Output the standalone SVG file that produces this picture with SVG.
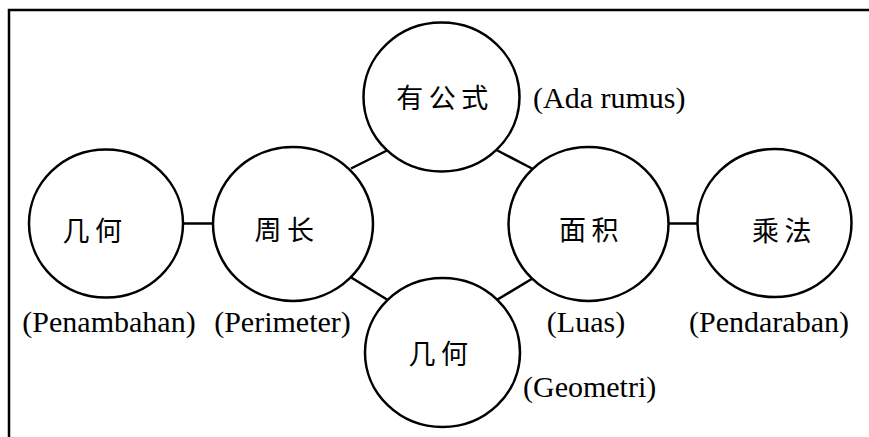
<svg xmlns="http://www.w3.org/2000/svg" width="869" height="437" viewBox="0 0 869 437">
<style>
.node{fill:#fff;stroke:#000;stroke-width:2.5}
.edge{stroke:#000;stroke-width:2.5;fill:none}
.zh{font-family:"Noto Sans CJK SC","Noto Sans CJK TC",sans-serif;font-size:27px;letter-spacing:5.5px;fill:#000;text-anchor:middle}
.lb{font-family:"Liberation Serif","Times New Roman",serif;font-size:30px;fill:#000}
</style>
<rect width="869" height="437" fill="#fff"/>
<path class="edge" d="M9,437 V10 H869"/>
<g id="connectors">
<line class="edge" x1="183" y1="223.5" x2="213" y2="223.5"/>
<line class="edge" x1="351" y1="168.5" x2="387" y2="150.5"/>
<line class="edge" x1="496.5" y1="150" x2="532" y2="168.5"/>
<line class="edge" x1="350" y1="276.7" x2="387" y2="299.5"/>
<line class="edge" x1="532.5" y1="278.5" x2="496.7" y2="300"/>
<line class="edge" x1="668" y1="223.5" x2="697" y2="223.5"/>
</g>
<g id="node-jihe-left">
<ellipse class="node" cx="106" cy="223.5" rx="77" ry="74"/>
<text class="zh" x="95" y="240.5">几何</text>
<text class="lb" x="109" y="332" text-anchor="middle">(Penambahan)</text>
</g>
<g id="node-zhouchang">
<ellipse class="node" cx="293" cy="224" rx="80" ry="77"/>
<text class="zh" x="287" y="240">周长</text>
<text class="lb" x="282.5" y="332" text-anchor="middle">(Perimeter)</text>
</g>
<g id="node-yougongshi">
<ellipse class="node" cx="441.5" cy="97" rx="78" ry="74.5"/>
<text class="zh" x="445" y="108">有公式</text>
<text class="lb" x="533" y="107.5">(Ada rumus)</text>
</g>
<g id="node-mianji">
<ellipse class="node" cx="588.5" cy="224" rx="80" ry="77"/>
<text class="zh" x="591.5" y="240">面积</text>
<text class="lb" x="586" y="332" text-anchor="middle">(Luas)</text>
</g>
<g id="node-chengfa">
<ellipse class="node" cx="774.5" cy="223" rx="77" ry="74"/>
<text class="zh" x="784.5" y="241">乘法</text>
<text class="lb" x="769" y="332" text-anchor="middle">(Pendaraban)</text>
</g>
<g id="node-jihe-bottom">
<ellipse class="node" cx="442.5" cy="352.5" rx="77.5" ry="74.5"/>
<text class="zh" x="441" y="364">几何</text>
<text class="lb" x="523" y="397">(Geometri)</text>
</g>
</svg>
